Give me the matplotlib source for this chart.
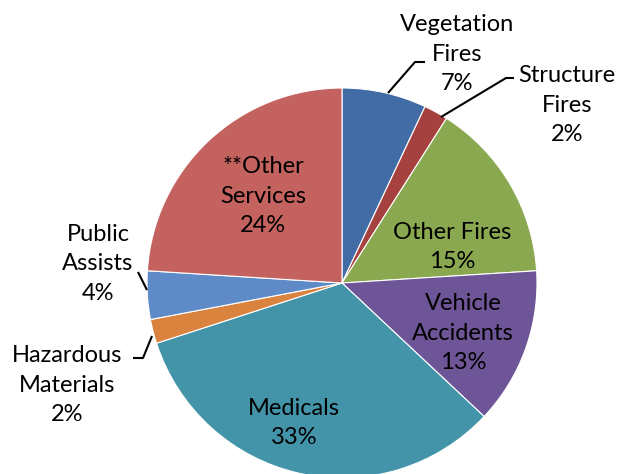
import matplotlib
matplotlib.use("Agg")
import matplotlib.pyplot as plt

categories = ["Vegetation\nFires", "Structure\nFires", "Other Fires", "Vehicle\nAccidents",
              "Medicals", "Hazardous\nMaterials", "Public\nAssists", "**Other\nServices"]
values = [7, 2, 15, 13, 33, 2, 4, 24]
colors = ["#416CA6", "#A5423F", "#8AA84F", "#6E5597", "#4394A9", "#D9833E", "#5E8BC8", "#C4625F"]

W, H = 620, 474
fig = plt.figure(figsize=(6.2, 4.74), dpi=100)
ax = fig.add_axes([0, 0, 1, 1])
ax.set_xlim(0, W)
ax.set_ylim(0, H)
ax.set_aspect("equal")
ax.axis("off")

def Y(y):
    return H - y

cx, cy, r = 342, Y(283), 195
ax.pie(values, colors=colors, startangle=90, counterclock=False, center=(cx, cy), radius=r,
       wedgeprops=dict(edgecolor="white", linewidth=0.8), frame=True)
ax.set_xlim(0, W)
ax.set_ylim(0, H)
ax.axis("off")

font = "Lato"
fs = 17
ls = 1.52
def lab(x, y, s, ha="center"):
    ax.text(x, Y(y), s, ha=ha, va="center", fontsize=fs, family=font, linespacing=ls, color="black")

pct = [f"{v}%" for v in values]
lab(457, 54, categories[0] + "\n" + pct[0])
lab(567, 105, categories[1] + "\n" + pct[1])
lab(452, 247, categories[2] + "\n" + pct[2])
lab(463, 333, categories[3] + "\n" + pct[3])
lab(294, 423, categories[4] + "\n" + pct[4])
lab(67, 385, categories[5] + "\n" + pct[5])
lab(98, 264, categories[6] + "\n" + pct[6])
lab(263, 196, categories[7] + "\n" + pct[7])

# leader lines
lk = dict(color="black", linewidth=1.5, solid_capstyle="butt")
ax.plot([388, 415, 425], [Y(93), Y(62), Y(62)], **lk)
ax.plot([441, 506, 514], [Y(117), Y(78), Y(78)], **lk)
ax.plot([138, 147], [Y(272), Y(290)], **lk)
ax.plot([133, 143, 152], [Y(358), Y(358), Y(336)], **lk)

# title (cut off at the top in the reference: only descenders visible)
ax.text(158, Y(-12), "Category", ha="left", va="baseline", fontsize=40,
        family="Liberation Sans", fontweight="bold", clip_on=False)

fig.savefig("out.png", dpi=100)
